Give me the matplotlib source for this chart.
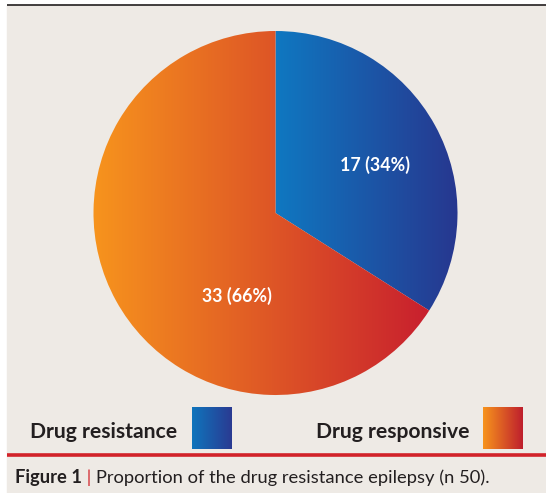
import numpy as np
import matplotlib
matplotlib.use("Agg")
import matplotlib.pyplot as plt
from matplotlib.colors import LinearSegmentedColormap
from matplotlib.patches import Rectangle

plt.rcParams["font.family"] = ["Lato", "DejaVu Sans"]

# Data
groups = ["Drug resistance", "Drug responsive"]
counts = [17, 33]
total = sum(counts)

# gradient ends for each group (left -> right)
slice_grads = [("#0f78c1", "#27378f"), ("#f7941d", "#c81f2e")]
key_grads = [("#0f75bc", "#2a3a92"), ("#f7941d", "#be1e2d")]

W, H = 546, 493
fig = plt.figure(figsize=(W / 100, H / 100), dpi=100)
fig.patch.set_facecolor("white")
ax = fig.add_axes([0, 0, 1, 1])


def py(y):
    # pixel rows run top-down, the axes run bottom-up
    return H - y


# panel background and rules
ax.add_patch(Rectangle((7, 0), W - 7, py(5), color="#eeeae5", zorder=0))
ax.plot([7, W], [py(5), py(5)], color="#231f20", lw=1.2, solid_capstyle="butt", zorder=1)
ax.plot([7, W], [py(454.5), py(454.5)], color="#d2232a", lw=2.6, solid_capstyle="butt", zorder=1)

# pie
cx, cy, r = 275.5, py(213), 182
wedges, _ = ax.pie(counts, startangle=90, counterclock=False,
                   center=(cx, cy), radius=r, frame=True,
                   wedgeprops=dict(linewidth=0))

ramp = np.linspace(0, 1, 256).reshape(1, -1)
for w, (c0, c1) in zip(wedges, slice_grads):
    w.set_facecolor("none")
    verts = w.get_path().vertices
    x0, x1 = verts[:, 0].min(), verts[:, 0].max()
    y0, y1 = verts[:, 1].min(), verts[:, 1].max()
    cmap = LinearSegmentedColormap.from_list("g", [c0, c1])
    im = ax.imshow(ramp, cmap=cmap, extent=[x0, x1, y0, y1], aspect="auto",
                   interpolation="bilinear", zorder=2)
    im.set_clip_path(w)

# slice labels
label_pos = [(375.5, 165), (237, 296)]
for n, (lx, ly) in zip(counts, label_pos):
    ax.text(lx, py(ly), f"{n} ({n / total * 100:.0f}%)", color="white",
            fontsize=12.8, fontweight="bold", ha="center", va="center", zorder=3)

# legend: label then gradient swatch
key_text_x = [30, 316]
key_box_x = [192, 483]
for name, tx, bx, (c0, c1) in zip(groups, key_text_x, key_box_x, key_grads):
    ax.text(tx, py(437.5), name, fontsize=15.2, fontweight="bold",
            color="#231f20", ha="left", va="baseline", zorder=3)
    cmap = LinearSegmentedColormap.from_list("k", [c0, c1])
    ax.imshow(ramp, cmap=cmap, extent=[bx, bx + 40, py(449), py(407)],
              aspect="auto", interpolation="bilinear", zorder=2)

# caption
t1 = ax.text(15, py(483), "Figure 1", fontsize=13.2, fontweight="bold",
             color="#231f20", ha="left", va="baseline", zorder=3)
t2 = ax.annotate(" | ", xy=(1, 0), xycoords=t1, fontsize=13.2,
                 color="#d2232a", ha="left", va="bottom", zorder=3)
ax.annotate("Proportion of the drug resistance epilepsy (n 50).", xy=(1, 0),
            xycoords=t2, fontsize=13.2, color="#231f20", ha="left",
            va="bottom", zorder=3)

ax.set_xlim(0, W)
ax.set_ylim(0, H)
ax.set_aspect("auto")
ax.axis("off")

fig.savefig("out.png", dpi=100, facecolor=fig.get_facecolor())
